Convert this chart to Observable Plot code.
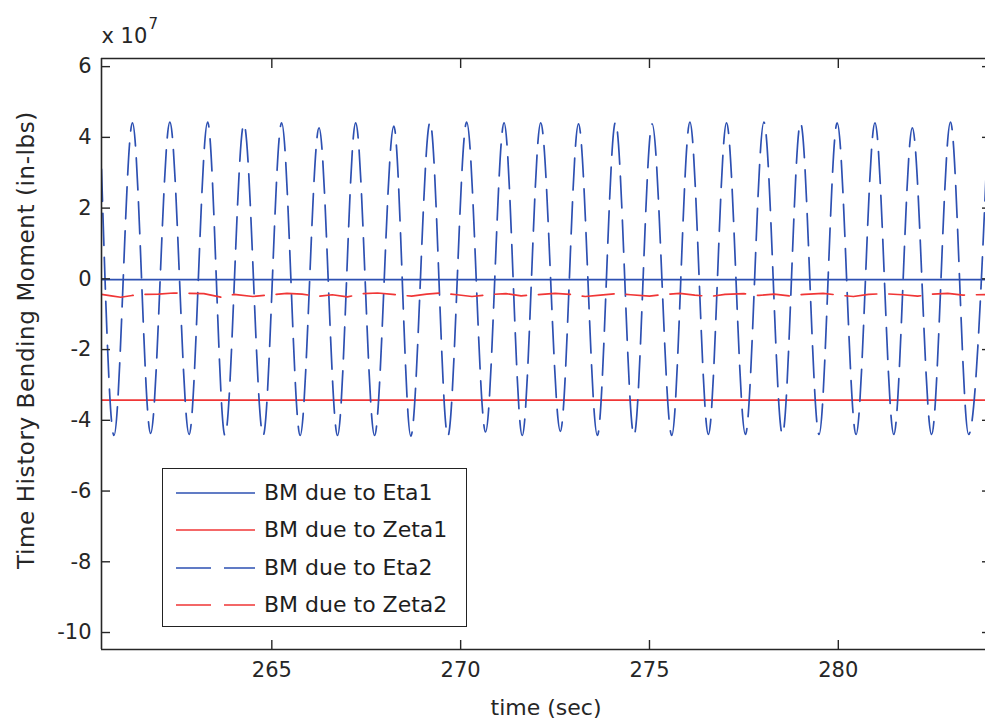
<!DOCTYPE html>
<html><head><meta charset="utf-8">
<script src="https://cdn.jsdelivr.net/npm/d3@7"></script>
<script src="https://cdn.jsdelivr.net/npm/@observablehq/plot@0.6"></script>
<style>
body{margin:0;background:#fff;}
#wrap{position:relative;width:985px;height:719px;font-family:"DejaVu Sans",sans-serif;overflow:hidden;}
#legend{position:absolute;left:162px;top:468px;width:305px;height:159px;border:1.5px solid #222;background:#fff;box-sizing:border-box;}
.row{position:absolute;left:0;height:30px;width:100%;}
.row svg{position:absolute;left:13px;top:10px;}
.row span{position:absolute;left:101px;top:1px;font-size:22px;color:#1e1e1e;white-space:nowrap;line-height:28px;}
</style></head>
<body><div id="wrap"></div>
<script>
// Axes (values in units of 10^7 in-lbs)
const xDomain = [260.49, 284.03];
const yDomain = [-10.48, 6.23];
const xTicks = [265, 270, 275, 280];
const yTicks = [-10, -8, -6, -4, -2, 0, 2, 4, 6];
const yTickLabels = ["-10", "-8", "-6", "-4", "-2", "0", "2", "4", "6"];

// BM due to Eta1 (solid blue)
const eta1Time = [260.49, 284.03];
const eta1Value = [-0.02, -0.02];

// BM due to Zeta1 (solid red)
const zeta1Time = [260.49, 284.03];
const zeta1Value = [-3.43, -3.43];

// BM due to Eta2 (dashed blue) – start, then alternating troughs / peaks
const eta2Time = [260.49, 260.82, 261.31, 261.79, 262.30, 262.81, 263.30, 263.76, 264.26, 264.77,
  265.26, 265.75, 266.25, 266.74, 267.22, 267.72, 268.23, 268.68, 269.19, 269.66,
  270.16, 270.66, 271.15, 271.63, 272.12, 272.64, 273.12, 273.62, 274.10, 274.59,
  275.07, 275.59, 276.07, 276.56, 277.04, 277.54, 278.03, 278.52, 279.00, 279.49,
  279.97, 280.47, 280.97, 281.47, 281.96, 282.47, 282.97, 283.45, 283.97];
const eta2Value = [3.1, -4.43, 4.41, -4.37, 4.43, -4.40, 4.43, -4.43, 4.38, -4.43,
  4.41, -4.43, 4.27, -4.43, 4.41, -4.43, 4.32, -4.45, 4.43, -4.45,
  4.43, -4.33, 4.41, -4.43, 4.41, -4.31, 4.38, -4.43, 4.43, -4.43,
  4.38, -4.43, 4.43, -4.40, 4.41, -4.40, 4.43, -4.40, 4.41, -4.40,
  4.41, -4.40, 4.41, -4.40, 4.27, -4.40, 4.43, -4.40, 4.40];

// BM due to Zeta2 (dashed red)
const zeta2Time = [260.49, 260.75, 261.0, 261.3, 261.6, 262.0, 262.4, 262.8, 263.2, 263.65,
  264.0, 264.5, 265.0, 265.4, 265.8, 266.2, 266.6, 267.0, 267.4, 267.8,
  268.2, 268.7, 269.1, 269.5, 269.9, 270.3, 270.8, 271.2, 271.6, 272.0,
  272.5, 272.9, 273.3, 273.7, 274.1, 274.5, 275.0, 275.4, 275.8, 276.2,
  276.6, 277.0, 277.5, 277.9, 278.3, 278.7, 279.1, 279.6, 280.0, 280.4,
  280.8, 281.2, 281.7, 282.1, 282.5, 282.9, 283.3, 284.03];
const zeta2Value = [-0.44, -0.48, -0.52, -0.47, -0.44, -0.43, -0.40, -0.41, -0.42, -0.52,
  -0.44, -0.50, -0.45, -0.41, -0.43, -0.50, -0.45, -0.51, -0.42, -0.40,
  -0.44, -0.49, -0.43, -0.40, -0.45, -0.50, -0.44, -0.42, -0.48, -0.45,
  -0.41, -0.44, -0.50, -0.46, -0.42, -0.45, -0.49, -0.44, -0.41, -0.46,
  -0.50, -0.44, -0.42, -0.47, -0.43, -0.48, -0.44, -0.41, -0.46, -0.50,
  -0.44, -0.42, -0.45, -0.49, -0.43, -0.41, -0.46, -0.44];

const BLUE = "#2d50b2";
const RED = "#f03636";
const INK = "#262626";

const series = [
  {name: "BM due to Eta1", color: BLUE, dash: null, curve: "linear", time: eta1Time, value: eta1Value},
  {name: "BM due to Zeta1", color: RED, dash: null, curve: "linear", time: zeta1Time, value: zeta1Value},
  {name: "BM due to Eta2", color: BLUE, dash: "32,12", curve: "monotone-x", time: eta2Time, value: eta2Value},
  {name: "BM due to Zeta2", color: RED, dash: "32,12", curve: "linear", time: zeta2Time, value: zeta2Value}
];

const lineMarks = series.map(s => Plot.line(
  s.time.map((t, i) => ({t, v: s.value[i]})),
  {x: "t", y: "v", stroke: s.color, strokeWidth: 1.7, strokeDasharray: s.dash ?? undefined, curve: s.curve, clip: true}
));

const chart = Plot.plot({
  width: 985, height: 719,
  marginLeft: 101, marginRight: -5, marginTop: 58, marginBottom: 70,
  x: {domain: xDomain},
  y: {domain: yDomain},
  style: {fontFamily: "DejaVu Sans, sans-serif", fontSize: "21px", color: INK, background: "#fff", overflow: "visible"},
  marks: [
    ...lineMarks,
    Plot.ruleX([xDomain[0]], {stroke: INK, strokeWidth: 1.6}),
    Plot.ruleY(yDomain, {stroke: INK, strokeWidth: 1.6}),
    Plot.axisX({ticks: xTicks, anchor: "bottom", tickSize: -9, fill: "none", stroke: INK, strokeWidth: 1.4, label: null}),
    Plot.axisX({ticks: xTicks, anchor: "top", tickSize: -9, fill: "none", stroke: INK, strokeWidth: 1.4, label: null}),
    Plot.axisY({ticks: yTicks, anchor: "left", tickSize: -9, fill: "none", stroke: INK, strokeWidth: 1.4, label: null}),
    Plot.axisY({ticks: yTicks, anchor: "right", tickSize: -9, fill: "none", stroke: INK, strokeWidth: 1.4, label: null}),
    Plot.axisX({ticks: xTicks, anchor: "bottom", tickSize: 0, tickPadding: 13, fontSize: 21, fill: INK, label: null}),
    Plot.axisY({ticks: yTicks, anchor: "left", tickSize: 0, tickPadding: 10, fontSize: 21, fill: INK, label: null,
      tickFormat: d => yTickLabels[yTicks.indexOf(d)]}),
    Plot.text(["time (sec)"], {frameAnchor: "bottom", dy: 58, textAnchor: "middle", lineAnchor: "middle", fontSize: 22, fill: INK}),
    Plot.text(["Time History Bending Moment (in-lbs)"], {frameAnchor: "left", dx: -75, dy: -14, rotate: -90, textAnchor: "middle", lineAnchor: "middle", fontSize: 23, fill: INK, style: "letter-spacing:0.6px"}),
    Plot.text(["x 10"], {frameAnchor: "top-left", dy: -22, textAnchor: "start", lineAnchor: "middle", fontSize: 21, fill: INK}),
    Plot.text(["7"], {frameAnchor: "top-left", dx: 47, dy: -34, textAnchor: "start", lineAnchor: "middle", fontSize: 15, fill: INK})
  ]
});

const wrap = document.getElementById("wrap");
wrap.appendChild(chart);
// letter spacing for the y-axis title
chart.querySelectorAll("text").forEach(t => {
  if (t.textContent === "Time History Bending Moment (in-lbs)") t.style.letterSpacing = "0.6px";
});

// Legend (inside the axes, lower left)
const legend = document.createElement("div");
legend.id = "legend";
series.forEach((s, i) => {
  const row = document.createElement("div");
  row.className = "row";
  row.style.top = (9 + i * 37.3) + "px";
  const svg = d3.create("svg").attr("width", 80).attr("height", 10);
  svg.append("line").attr("x1", 0).attr("x2", 79).attr("y1", 5).attr("y2", 5)
    .attr("stroke", s.color).attr("stroke-width", 1.7)
    .attr("stroke-dasharray", s.dash ? "35,13" : null);
  row.appendChild(svg.node());
  const label = document.createElement("span");
  label.textContent = s.name;
  row.appendChild(label);
  legend.appendChild(row);
});
wrap.appendChild(legend);
</script>
</body></html>
